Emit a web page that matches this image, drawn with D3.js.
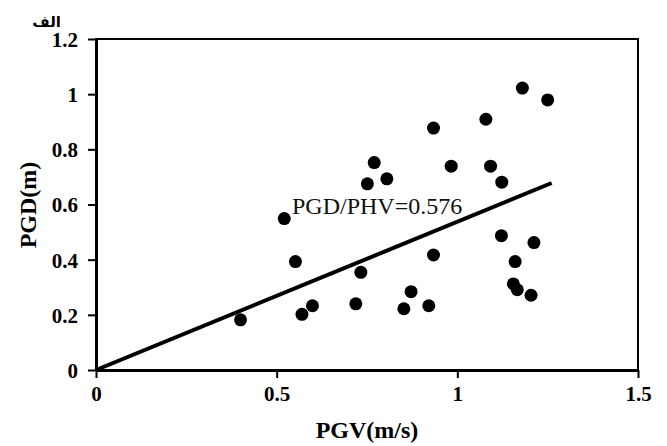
<!DOCTYPE html>
<html>
<head>
<meta charset="utf-8">
<script src="https://cdn.jsdelivr.net/npm/d3@7"></script>
<style>
  html, body { margin: 0; padding: 0; background: #fff; }
  svg { display: block; }
</style>
</head>
<body>
<svg id="chart" width="667" height="446"></svg>
<script>
// ---- data ----
const pgv = [0.40, 0.521, 0.552, 0.570, 0.599, 0.719, 0.733, 0.751, 0.770, 0.805,
             0.852, 0.872, 0.921, 0.934, 0.934, 0.983, 1.079, 1.092, 1.123, 1.122,
             1.160, 1.155, 1.166, 1.204, 1.212, 1.180, 1.250];
const pgd = [0.182, 0.549, 0.393, 0.202, 0.233, 0.240, 0.354, 0.675, 0.752, 0.693,
             0.222, 0.284, 0.233, 0.417, 0.877, 0.739, 0.909, 0.739, 0.681, 0.487,
             0.393, 0.312, 0.291, 0.271, 0.462, 1.022, 0.979];
const fitX = [0, 1.261];
const fitY = [0, 0.678];
const xTicks = [0, 0.5, 1, 1.5];
const yTicks = [0, 0.2, 0.4, 0.6, 0.8, 1, 1.2];
const xTickLabels = ["0", "0.5", "1", "1.5"];
const yTickLabels = ["0", "0.2", "0.4", "0.6", "0.8", "1", "1.2"];
const xTitle = "PGV(m/s)";
const yTitle = "PGD(m)";
const fitLabel = "PGD/PHV=0.576";
const panelLabel = "الف";

// ---- drawing ----
const svg = d3.select("#chart");
const x = d3.scaleLinear().domain([0, 1.5]).range([96, 638]);
const y = d3.scaleLinear().domain([0, 1.2]).range([370, 39]);
const serif = "'Liberation Serif', 'Times New Roman', serif";

// frame
svg.append("rect")
  .attr("x", x(0)).attr("y", y(1.2))
  .attr("width", x(1.5) - x(0)).attr("height", y(0) - y(1.2))
  .attr("fill", "none").attr("stroke", "#000").attr("stroke-width", 2);

// axes
const xAxis = d3.axisBottom(x).tickValues(xTicks)
  .tickFormat((d, i) => xTickLabels[i]).tickSizeInner(8).tickSizeOuter(0).tickPadding(8);
const yAxis = d3.axisLeft(y).tickValues(yTicks)
  .tickFormat((d, i) => yTickLabels[i]).tickSizeInner(8).tickSizeOuter(0).tickPadding(10);

const gx = svg.append("g").attr("transform", `translate(0,${y(0)})`).call(xAxis);
const gy = svg.append("g").attr("transform", `translate(${x(0)},0)`).call(yAxis);
[gx, gy].forEach(g => {
  g.select(".domain").attr("stroke", "#000").attr("stroke-width", 3);
  g.selectAll(".tick line").attr("stroke", "#000").attr("stroke-width", 2);
  g.selectAll(".tick text")
    .attr("fill", "#000")
    .style("font-family", serif)
    .style("font-weight", "bold")
    .style("font-size", "21px");
});
gy.selectAll(".tick text").attr("dy", "0.35em");

// fit line
svg.append("line")
  .attr("x1", x(fitX[0])).attr("y1", y(fitY[0]))
  .attr("x2", x(fitX[1])).attr("y2", y(fitY[1]))
  .attr("stroke", "#000").attr("stroke-width", 4);

// points
svg.append("g").selectAll("circle")
  .data(pgv.map((v, i) => [v, pgd[i]]))
  .join("circle")
  .attr("cx", d => x(d[0])).attr("cy", d => y(d[1]))
  .attr("r", 6.5).attr("fill", "#000");

// fit label
svg.append("text")
  .attr("x", 292).attr("y", 214)
  .style("font-family", serif).style("font-size", "24px")
  .attr("fill", "#111")
  .text(fitLabel);

// axis titles
svg.append("text")
  .attr("x", 367).attr("y", 438)
  .attr("text-anchor", "middle")
  .style("font-family", serif).style("font-weight", "bold").style("font-size", "24px")
  .text(xTitle);

svg.append("text")
  .attr("transform", `translate(36,205) rotate(-90)`)
  .attr("text-anchor", "middle")
  .style("font-family", serif).style("font-weight", "bold").style("font-size", "24px")
  .text(yTitle);

// panel label
svg.append("text")
  .attr("x", 61).attr("y", 27)
  .attr("text-anchor", "end")
  .style("font-family", "'DejaVu Sans', sans-serif").style("font-weight", "bold").style("font-size", "15px")
  .text(panelLabel);
</script>
</body>
</html>
